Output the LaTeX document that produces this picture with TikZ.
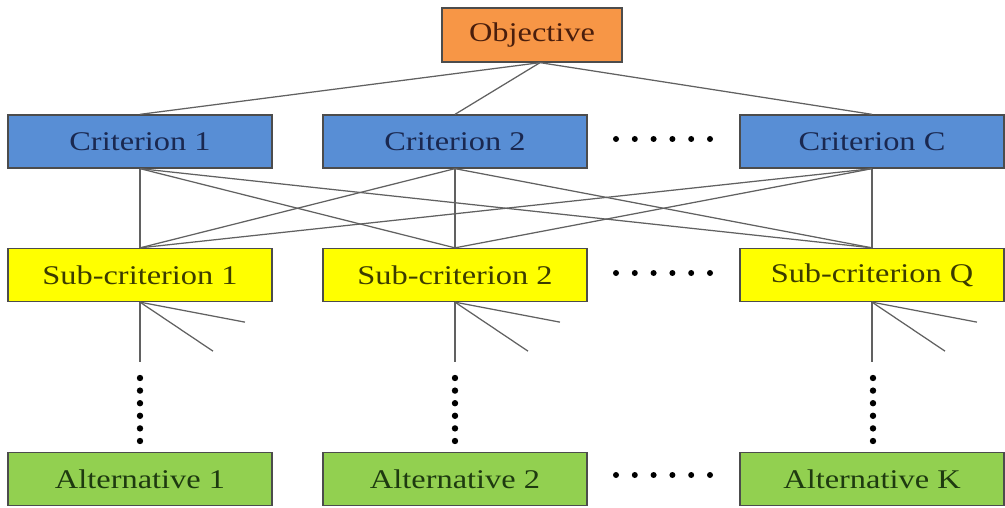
\documentclass[tikz,border=0pt]{standalone}
\usepackage{fontspec}
\setmainfont[FakeStretch=1.2]{Liberation Serif}
\definecolor{objfill}{RGB}{247,150,70}
\definecolor{critfill}{RGB}{88,142,213}
\definecolor{subfill}{RGB}{255,255,0}
\definecolor{altfill}{RGB}{146,208,80}
\definecolor{objtext}{RGB}{74,30,12}
\definecolor{crittext}{RGB}{26,40,80}
\definecolor{subtext}{RGB}{60,60,0}
\definecolor{alttext}{RGB}{30,58,16}
\begin{document}
\begin{tikzpicture}[x=1pt,y=-1pt,
  box/.style={draw=black!70, line width=1.3pt, minimum width=264pt,
    minimum height=53pt, inner sep=0pt, font=\fontsize{27}{30}\selectfont},
  objbox/.style={box, fill=objfill, text=objtext, minimum width=180pt, minimum height=54pt},
  critbox/.style={box, fill=critfill, text=crittext},
  subbox/.style={box, fill=subfill, text=subtext},
  altbox/.style={box, fill=altfill, text=alttext},
  link/.style={draw=black!62, line width=1.25pt},
  dotfill/.style={fill=black}
]
\useasboundingbox (0,0) rectangle (1005,508);

% boxes
\node[objbox]  (obj) at (532,35)    {Objective};
\node[critbox] (c1)  at (140,141.5) {Criterion 1};
\node[critbox] (c2)  at (455,141.5) {Criterion 2};
\node[critbox] (cC)  at (872,141.5) {Criterion C};
\node[subbox]  (s1)  at (140,275)   {Sub-criterion 1};
\node[subbox]  (s2)  at (455,275)   {Sub-criterion 2};
\node[subbox]  (sQ)  at (872,275)   {Sub-criterion Q};
\node[altbox]  (a1)  at (140,479)   {Alternative 1};
\node[altbox]  (a2)  at (455,479)   {Alternative 2};
\node[altbox]  (aK)  at (872,479)   {Alternative K};

% objective to criteria
\coordinate (objb) at ([xshift=8pt]obj.south);
\foreach \c in {c1,c2,cC}
  \draw[link] (objb) -- (\c.north);

% criteria to sub-criteria
\foreach \c in {c1,c2,cC}
  \foreach \s in {s1,s2,sQ}
    \draw[link] (\c.south) -- (\s.north);

% open branches below the sub-criteria
\foreach \s in {s1,s2,sQ}{
  \coordinate (\s v) at ([yshift=-60pt]\s.south);
  \coordinate (\s a) at ([shift={(105,20)}]\s.south);
  \coordinate (\s b) at ([shift={(73,49)}]\s.south);
  \draw[link] (\s.south) -- (\s v);
  \draw[link] (\s.south) -- (\s a);
  \draw[link] (\s.south) -- (\s b);
}

% vertical ellipses
\foreach \x in {140,455,873}
  \foreach \i in {0,...,5}
    \fill[dotfill] (\x,378+12.6*\i) circle (3.2pt);

% horizontal ellipses
\foreach \y in {139,273,475}
  \foreach \i in {0,...,5}
    \fill[dotfill] (616+18.8*\i,\y) circle (3pt);
\end{tikzpicture}
\end{document}
